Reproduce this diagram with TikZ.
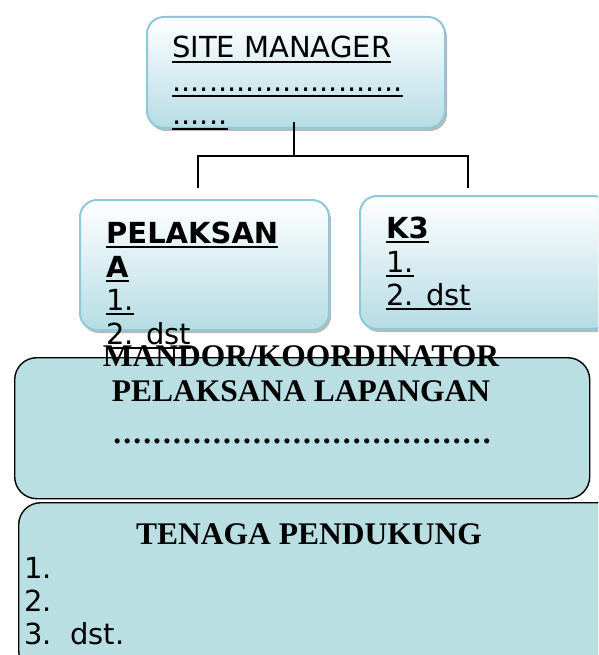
\documentclass[tikz,border=0pt]{standalone}
\usepackage{fontspec}
\setmainfont{Liberation Serif}
\newfontfamily\dvs{DejaVu Sans}
\usetikzlibrary{shadows}
\definecolor{lblue}{HTML}{B5DCE4}
\definecolor{bblue}{HTML}{8EC9D7}
\definecolor{mfill}{HTML}{B9DFE3}
\newcommand\myul[1]{\setbox0\hbox{#1}\rlap{\vrule width \wd0 height -3pt depth 5pt}\box0}
\tikzset{
  topbox/.style={draw=bblue, line width=2pt, rounded corners=17pt, top color=white, bottom color=lblue,
    drop shadow={shadow xshift=2pt, shadow yshift=-3pt, fill=gray!70, opacity=0.8}, inner sep=0pt},
  lowbox/.style={draw=black, line width=1.4pt, rounded corners=22pt, fill=mfill, inner sep=0pt},
  sans/.style={font=\dvs\fontsize{29}{33}\selectfont, inner sep=0pt, anchor=base west},
  sansb/.style={font=\dvs\bfseries\fontsize{29}{33}\selectfont, inner sep=0pt, anchor=base west},
  serifb/.style={font=\bfseries\fontsize{31.5}{34}\selectfont, inner sep=0pt, anchor=base},
  conn/.style={draw=black, line width=1.6pt},
}
\begin{document}
\begin{tikzpicture}[x=1pt,y=-1pt]
\useasboundingbox (0,0) rectangle (598,655);
\clip (0,0) rectangle (598,655);
% top box
\node[topbox, anchor=north west, minimum width=298pt, minimum height=111pt] (sm) at (146,16) {};
\node[sans] (sm1) at (172,58) {\myul{SITE MANAGER}};
\node[sans] (sm2) at (172,92) {\myul{.........................}};
\node[sans] (sm3) at (172,125) {\myul{......}};
% connectors
\coordinate (ja) at (294,122);
\coordinate (jb) at (294,156);
\coordinate (jl) at (198,156);
\coordinate (jr) at (468,156);
\coordinate (el) at (198,188);
\coordinate (er) at (468,188);
\draw[conn] (ja) -- (jb);
\draw[conn] (el) -- (jl) -- (jr) -- (er);
% pelaksana
\node[topbox, anchor=north west, minimum width=249pt, minimum height=130pt] (pl) at (79,199) {};
\node[sansb] (pl1) at (106,243) {\myul{PELAKSAN}};
\node[sansb] (pl2) at (106,277) {\myul{A}};
\node[sans] (pl3) at (106,310) {\myul{1.}};
\node[sans] (pl4) at (106,344) {\myul{2. dst}};
% k3
\node[topbox, anchor=north west, minimum width=250pt, minimum height=133pt] (k3) at (359,195) {};
\node[sansb] (k1) at (386,238) {\myul{K3}};
\node[sans] (k2) at (386,272) {\myul{1.}};
\node[sans] (k4) at (386,305) {\myul{2. dst}};
% mandor
\node[lowbox, anchor=north west, minimum width=575pt, minimum height=141pt] (md) at (14,357) {};
\node[serifb] (m1) at (301,366) {MANDOR/KOORDINATOR};
\node[serifb] (m2) at (301,401) {PELAKSANA LAPANGAN};
\node[serifb, font=\bfseries\fontsize{31.5}{34}\selectfont\addfontfeature{LetterSpace=6.7}] (m3) at (302,443) {......................................};
% tenaga
\node[lowbox, anchor=north west, minimum width=600pt, minimum height=170pt] (tp) at (18,502) {};
\node[serifb] (t1) at (309,544) {TENAGA PENDUKUNG};
\node[sans] (t2) at (24,578) {1.};
\node[sans] (t3) at (24,611) {2.};
\node[sans] (t4) at (24,644) {3.\ \ dst.};
\end{tikzpicture}
\end{document}
